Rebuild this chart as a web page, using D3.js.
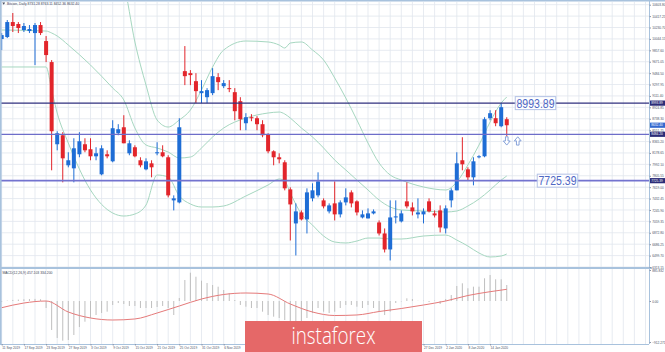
<!DOCTYPE html>
<html>
<head>
<meta charset="utf-8">
<script src="https://cdn.jsdelivr.net/npm/d3@7/dist/d3.min.js"></script>
<style>
  html, body { margin: 0; padding: 0; background: #fff; }
  svg { display: block; }
</style>
</head>
<body>
<div id="chart"></div>
<script>
// Bitcoin, Daily - one bar per weekday
const opens = [10042,10075,10320,10288,10189,10173,10140,10271,10009,9665,
  8321,8468,7977,7927,8157,8321,8239,8124,7829,8157,
  8042,8501,8599,8173,8272,8059,7911,8009,8173,8190,
  8108,7403,7370,9517,9484,9353,9157,9091,9157,9419,
  9271,9239,9173,9026,8665,8763,8747,8649,8485,8206,
  8108,8026,7583,7026,7206,7092,7436,7485,7403,7223,
  7354,7174,7370,7534,7387,7124,7108,7190,7042,6862,
  6600,7124,7059,7387,7288,7174,7174,7387,7190,7239,
  6944,7403,7567,8059,7911,7780,8108,8124,8747,8747,
  8616,8731];
const highs = [10140,10353,10468,10320,10304,10271,10304,10320,10091,9698,
  8534,8518,8190,8419,8518,8419,8419,8272,8304,8222,
  8714,8649,8796,8386,8304,8108,8091,8059,8354,8304,
  8141,7485,8747,9927,9534,9484,9370,9239,9566,9484,
  9370,9370,9239,9091,8829,8813,8780,8714,8501,8222,
  8173,8059,7616,7354,7239,7600,7682,7862,7436,7354,
  7714,7403,7600,7567,7403,7239,7272,7255,7075,6944,
  7403,7403,7239,7698,7370,7436,7272,7436,7239,7321,
  7321,7600,8190,8436,7944,8108,8141,8763,8878,8878,
  8993,8763];
const lows = [9861,10058,10157,10140,10157,10140,9616,10107,9665,7895,
  8222,7698,7944,7698,8108,8190,8059,8059,7813,8091,
  8026,8468,8337,8141,8108,7944,7895,7780,8141,8108,
  7452,7239,7354,9288,9288,8993,8993,8993,9124,9206,
  9239,9173,8714,8550,8550,8698,8550,8436,8173,7977,
  8009,7567,6747,6502,7075,6862,7387,7452,7272,7190,
  7075,7124,7321,7288,7157,7108,7108,7174,6829,6551,
  6420,7026,7042,7272,7157,7108,7026,7206,7124,6879,
  6862,7288,7567,7895,7731,7649,8091,8108,8714,8616,
  8599,8452];
const closes = [10107,10320,10255,10222,10255,10206,10271,10140,9780,8534,
  8501,8091,8059,8255,8370,8222,8124,8173,8255,8124,
  8583,8567,8337,8337,8124,7977,8042,7944,8190,8124,
  7485,7436,8599,9435,9452,9190,9190,9206,9435,9337,
  9321,9222,8862,8731,8763,8747,8649,8468,8206,8108,
  8075,7600,7337,7223,7092,7534,7567,7714,7305,7321,
  7174,7370,7452,7354,7206,7174,7190,7223,6862,6600,
  7124,7141,7190,7305,7223,7206,7223,7223,7157,6960,
  7272,7567,8009,7993,7780,8042,8124,8731,8829,8665,
  8927,8632];

// Bollinger Bands, read at these bars
const bbBars = [0,8,9,10,12,16,20,22,24,26,28,30,32,34,36,38,40,44,48,50,51,52,54,56,58,60,62,64,66,68,70,72,76,80,82,84,86,88,90,91];
const bbUpper = [10795,10762,11073,11351,11547,11662,11286,10942,9994,9290,8718,8603,8718,8881,9208,9585,9863,10010,9994,9944,9895,9977,9994,9863,9699,9405,9077,8718,8341,8014,7818,7736,7622,7573,7704,7982,8309,8685,8996,9094];
const bbMiddle = [10190,10173,10141,10092,9944,9617,9241,9045,8587,8309,8260,8194,8096,8112,8260,8440,8587,8750,8832,8848,8816,8750,8587,8440,8260,8063,7900,7736,7573,7409,7295,7246,7229,7213,7229,7311,7425,7573,7736,7802];
const bbLower = [9585,9585,9208,8832,8341,7573,7196,7147,7180,7327,7818,7785,7475,7344,7295,7295,7311,7475,7655,7753,7720,7524,7180,6999,6820,6722,6706,6738,6787,6787,6771,6771,6820,6836,6754,6656,6542,6477,6493,6526];

// MACD(12,26,9): main as histogram, signal as line
const macdMain = [-20,10,30,40,50,55,60,50,-156,-645,
  -823,-883,-868,-757,-579,-461,-378,-312,-267,-238,
  -89,-45,-67,-111,-111,-156,-156,-156,-134,-111,
  -156,-312,86,600,809,694,580,514,457,409,
  314,229,29,-89,-127,-156,-156,-238,-312,-349,
  -378,-423,-461,-467,-467,-378,-267,-156,-238,-267,
  -238,-156,-89,-89,-127,-156,-89,-156,-238,-312,
  -238,-45,-10,77,57,5,8,-22,10,-67,
  57,171,429,506,363,409,409,649,743,620,
  620,457];
const signalBars = [0,4,8,12,16,20,24,28,32,36,40,44,48,52,56,60,64,68,72,76,80,84,88,91];
const signalValues = [-149,-45,0,-245,-378,-423,-400,-267,-111,57,186,229,200,-67,-245,-323,-311,-234,-167,-89,0,157,266,334];

const priceTicks = [10603.80,10417.25,10230.70,10044.15,9857.60,9671.05,9484.50,9297.95,9111.40,8924.85,8738.30,8551.75,8365.20,8178.65,7992.10,7805.55,7619.00,7432.45,7245.90,7059.35,6872.80,6686.25,6499.70,6313.15];
const macdTicks = [885.832, 0, -912.271];
// one label every 4 bars; null where the badge hides the label
const dateLabels = ["11 Sep 2019","17 Sep 2019","23 Sep 2019","27 Sep 2019","3 Oct 2019","9 Oct 2019","15 Oct 2019","21 Oct 2019","25 Oct 2019","31 Oct 2019","6 Nov 2019",null,null,null,null,null,null,null,null,"27 Dec 2019","2 Jan 2020","8 Jan 2020","14 Jan 2020"];

const levels = [8993.89, 8484.20, 7725.39];
const lastPrice = 8632.40;

const width = 665, height = 352;
const right = 649;
const mainTop = 2, mainBottom = 268, macdBottom = 344;
const blue = "#1e6dd5", red = "#e2252b", frame = "#a8c2dd", grid = "#e1e6ee";

const svg = d3.select("#chart").append("svg")
    .attr("width", width)
    .attr("height", height)
    .style("font-family", "'Liberation Sans', Arial, sans-serif");

const x = d3.scaleLinear().domain([0, 91]).range([1.7, 506.75]);
const y = d3.scaleLinear().domain([6313.15, 10603.80]).range([267, 4.7]);
const ym = d3.scaleLinear().domain([-912.271, 0, 885.832]).range([342, 301, 270]);

svg.append("defs").append("clipPath").attr("id", "clipMain")
  .append("rect").attr("x", 0).attr("y", mainTop).attr("width", right).attr("height", mainBottom - mainTop);

// grid
const gridG = svg.append("g");
gridG.selectAll(".vg").data(d3.range(0, 118, 2)).join("line")
    .attr("x1", d => x(d)).attr("x2", d => x(d))
    .attr("y1", mainTop).attr("y2", macdBottom)
    .attr("stroke", grid).attr("stroke-width", 0.8);
gridG.selectAll(".hg").data(priceTicks).join("line")
    .attr("x1", 0).attr("x2", right)
    .attr("y1", d => y(d)).attr("y2", d => y(d))
    .attr("stroke", grid).attr("stroke-width", 0.8);

// Bollinger bands
const bbLine = vals => d3.line()
    .x((d, k) => x(bbBars[k]))
    .y(d => y(d))
    .curve(d3.curveMonotoneX)(vals);
const main = svg.append("g").attr("clip-path", "url(#clipMain)");
[bbUpper, bbMiddle, bbLower].forEach(vals => {
  main.append("path").attr("d", bbLine(vals))
      .attr("fill", "none").attr("stroke", "#a6d7c0").attr("stroke-width", 1);
});

// candles
const bars = opens.map((o, i) => ({ i, o, h: highs[i], l: lows[i], c: closes[i] }));
main.selectAll(".wick").data(bars).join("line")
    .attr("x1", d => x(d.i)).attr("x2", d => x(d.i))
    .attr("y1", d => y(d.h)).attr("y2", d => y(d.l))
    .attr("stroke", d => d.c >= d.o ? blue : red).attr("stroke-width", 1);
main.selectAll(".body").data(bars).join("rect")
    .attr("x", d => x(d.i) - 2).attr("width", 4)
    .attr("y", d => y(Math.max(d.o, d.c)))
    .attr("height", d => Math.max(1, Math.abs(y(d.o) - y(d.c))))
    .attr("fill", d => d.c >= d.o ? blue : red);

// horizontal levels
const levelColors = ["#30307f", "#6d6dc9", "#7373cf"];
const levelWidths = [1.2, 1.2, 1.6];
svg.selectAll(".lvl").data(levels).join("line")
    .attr("x1", 0).attr("x2", right)
    .attr("y1", d => y(d)).attr("y2", d => y(d))
    .attr("stroke", (d, k) => levelColors[k]).attr("stroke-width", (d, k) => levelWidths[k]);

// level labels
const tagged = [levels[0], levels[2]];
const tagX = [x(91) + 8.5, x(91) + 30.5];
tagged.forEach((v, k) => {
  const g = svg.append("g").attr("transform", `translate(${tagX[k]},${y(v)})`);
  g.append("rect").attr("x", 0).attr("y", -6.5).attr("width", 40.5).attr("height", 13)
      .attr("fill", "#fff").attr("fill-opacity", 0.85)
      .attr("stroke", "#b4c2e6").attr("stroke-width", 1);
  g.append("text").attr("x", 20.25).attr("y", 4.6)
      .attr("text-anchor", "middle")
      .attr("font-size", 13).attr("fill", "#4e67c4")
      .attr("textLength", 38).attr("lengthAdjust", "spacingAndGlyphs")
      .text(v.toFixed(2));
});

// arrows under the last bar
const arrowY = y(levels[1]) + 2.5;
const arrow = "M-1.3,0 L1.3,0 L1.3,4.2 L3.4,4.2 L0,8.3 L-3.4,4.2 L-1.3,4.2 Z";
svg.append("path").attr("d", arrow)
    .attr("transform", `translate(${x(91)},${arrowY})`)
    .attr("fill", "#fff").attr("stroke", "#7c9ad6").attr("stroke-width", 0.9);
svg.append("path").attr("d", arrow)
    .attr("transform", `translate(${x(91) + 11},${arrowY + 8.3}) scale(1,-1)`)
    .attr("fill", "#fff").attr("stroke", "#7c9ad6").attr("stroke-width", 0.9);

// MACD panel
svg.selectAll(".hist").data(macdMain).join("line")
    .attr("x1", (d, i) => x(i)).attr("x2", (d, i) => x(i))
    .attr("y1", ym(0)).attr("y2", d => ym(d))
    .attr("stroke", "#bfbfbf").attr("stroke-width", 1);
svg.append("path")
    .attr("d", d3.line().x((d, k) => x(signalBars[k])).y(d => ym(d)).curve(d3.curveMonotoneX)(signalValues))
    .attr("fill", "none").attr("stroke", "#e57a7a").attr("stroke-width", 1);

// frame
svg.append("line").attr("x1", 0).attr("x2", width).attr("y1", 0.7).attr("y2", 0.7).attr("stroke", frame).attr("stroke-width", 1.4);
svg.append("line").attr("x1", 0.8).attr("x2", 0.8).attr("y1", 0).attr("y2", macdBottom).attr("stroke", frame).attr("stroke-width", 1.6);
svg.append("line").attr("x1", right + 0.5).attr("x2", right + 0.5).attr("y1", 0).attr("y2", macdBottom).attr("stroke", frame).attr("stroke-width", 1);
svg.append("line").attr("x1", 0).attr("x2", 652).attr("y1", mainBottom).attr("y2", mainBottom).attr("stroke", frame).attr("stroke-width", 2);
svg.append("line").attr("x1", 0).attr("x2", right).attr("y1", macdBottom + 0.5).attr("y2", macdBottom + 0.5).attr("stroke", frame).attr("stroke-width", 1);

// price axis
const yAxis = svg.append("g")
    .attr("transform", `translate(${right + 0.5},0)`)
    .call(d3.axisRight(y).tickValues(priceTicks).tickSize(1.5).tickPadding(1.2).tickFormat(d3.format(".2f")));
yAxis.select(".domain").remove();
yAxis.selectAll("text").attr("font-size", 3.2).attr("fill", "#4a5366").attr("font-family", "'Liberation Sans', Arial, sans-serif");
yAxis.selectAll(".tick line").attr("stroke", "#8a94a8");

const macdAxis = svg.append("g")
    .attr("transform", `translate(${right + 0.5},0)`)
    .call(d3.axisRight(ym).tickValues(macdTicks).tickSize(1.5).tickPadding(1.2).tickFormat(d => d === 0 ? "0.00" : d3.format(".3f")(d)));
macdAxis.select(".domain").remove();
macdAxis.selectAll("text").attr("font-size", 3.2).attr("fill", "#4a5366").attr("font-family", "'Liberation Sans', Arial, sans-serif");
macdAxis.selectAll(".tick line").attr("stroke", "#8a94a8");

// highlighted price tags
const tags = [
  { v: levels[0], fill: "#2c2c78" },
  { v: lastPrice, fill: "#3468cf" },
  { v: levels[1], fill: "#2c2c78" },
  { v: levels[2], fill: "#2c2c78" }
];
tags.forEach(t => {
  svg.append("rect").attr("x", right + 1).attr("y", y(t.v) - 2.6).attr("width", 15).attr("height", 5.2).attr("fill", t.fill);
  svg.append("text").attr("x", right + 2.2).attr("y", y(t.v) + 1.2)
      .attr("font-size", 3.2).attr("fill", "#fff").text(t.v.toFixed(2));
});

// date axis
const shownDates = dateLabels.map((d, k) => ({ bar: k * 4, label: d })).filter(d => d.label);
const xAxis = svg.append("g")
    .attr("transform", `translate(0,${macdBottom})`)
    .call(d3.axisBottom(x).tickValues(shownDates.map(d => d.bar)).tickSize(1.5).tickPadding(0.8)
      .tickFormat((d, k) => shownDates[k].label));
xAxis.select(".domain").remove();
xAxis.selectAll("text").attr("text-anchor", "start").attr("font-size", 3.2).attr("fill", "#4a5366")
    .attr("font-family", "'Liberation Sans', Arial, sans-serif");
xAxis.selectAll(".tick line").attr("stroke", "#8a94a8");

// captions
svg.append("path").attr("d", "M2.2,2.6 L5.2,2.6 L3.7,4.8 Z").attr("fill", "#4a5366");
svg.append("text").attr("x", 7).attr("y", 5.2).attr("font-size", 3.4).attr("fill", "#3d4558")
    .text("Bitcoin, Daily  8731.28 8763.11 8452.36 8632.40");
svg.append("text").attr("x", 2.5).attr("y", 273.6).attr("font-size", 3.4).attr("fill", "#3d4558")
    .text("MACD(12,26,9) 457.103 334.200");

// instaforex badge
svg.append("rect").attr("x", 245).attr("y", 321).attr("width", 177).attr("height", 31)
    .attr("fill", "#e56868");
svg.append("text").attr("x", 333.5).attr("y", 343.5).attr("text-anchor", "middle")
    .attr("font-family", "'Open Sans', Roboto, sans-serif").attr("font-weight", 300)
    .attr("font-size", 23).attr("fill", "#fff")
    .attr("textLength", 84).attr("lengthAdjust", "spacingAndGlyphs")
    .text("instaforex");
</script>
</body>
</html>
